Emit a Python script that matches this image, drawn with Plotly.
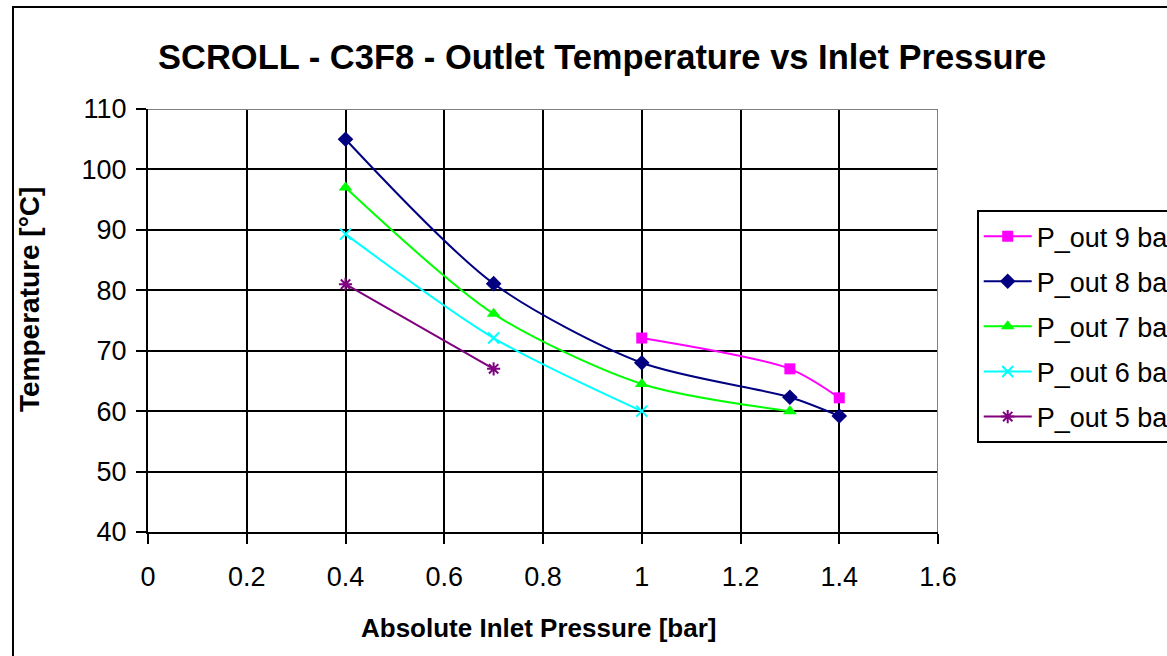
import plotly.graph_objects as go

x9 = [1.0, 1.3, 1.4]
y9 = [72.1, 67.0, 62.2]
x8 = [0.4, 0.7, 1.0, 1.3, 1.4]
y8 = [105.0, 81.1, 68.0, 62.3, 59.2]
x7 = [0.4, 0.7, 1.0, 1.3]
y7 = [97.0, 76.1, 64.5, 60.0]
x6 = [0.4, 0.7, 1.0]
y6 = [89.3, 72.1, 60.0]
x5 = [0.4, 0.7]
y5 = [81.0, 67.0]

names = ["P_out 9 bar", "P_out 8 bar", "P_out 7 bar", "P_out 6 bar", "P_out 5 bar"]
xticks = [0, 0.2, 0.4, 0.6, 0.8, 1, 1.2, 1.4, 1.6]
yticks = [40, 50, 60, 70, 80, 90, 100, 110]

FONT = "Arial, Liberation Sans, sans-serif"

series = [
    (x9, y9, names[0], "#FF00FF", "square", 11, None),
    (x8, y8, names[1], "#000080", "diamond", 12, None),
    (x7, y7, names[2], "#00FF00", "triangle-up", 12, None),
    (x6, y6, names[3], "#00FFFF", "x-thin-open", 11, 2),
    (x5, y5, names[4], "#800080", "asterisk-open", 11, 2),
]

fig = go.Figure()
for i, (xs, ys, nm, col, sym, sz, lw) in enumerate(series):
    marker = dict(symbol=sym, size=sz, color=col)
    if lw:
        marker["line"] = dict(color=col, width=lw)
    else:
        marker["line"] = dict(width=0)
    fig.add_trace(go.Scatter(
        x=xs, y=ys, name=nm, mode="lines+markers",
        line=dict(color=col, width=2, shape="spline", smoothing=0.8),
        marker=marker, legendgroup=str(i),
    ))

fig.update_layout(
    width=1167, height=656,
    paper_bgcolor="white", plot_bgcolor="white",
    margin=dict(l=148, r=229, t=109, b=124, autoexpand=False),
    font=dict(family=FONT, size=27, color="black"),
    showlegend=True,
    legend=dict(
        x=1.049, y=0.761, xanchor="left", yanchor="top",
        bordercolor="black", borderwidth=2, bgcolor="white",
        font=dict(family=FONT, size=27, color="black"),
        tracegroupgap=7, itemwidth=48,
    ),
    xaxis=dict(
        range=[0, 1.6], tickvals=xticks, ticktext=[str(v) for v in xticks],
        showgrid=True, gridcolor="black", gridwidth=1.5,
        showline=True, linecolor="black", linewidth=2,
        ticks="outside", ticklen=10, tickwidth=2, tickcolor="black",
        zeroline=False, ticklabelstandoff=10,
        tickfont=dict(family=FONT, size=27),
    ),
    yaxis=dict(
        range=[40, 110], tickvals=yticks,
        showgrid=True, gridcolor="black", gridwidth=1.5,
        showline=True, linecolor="black", linewidth=2,
        ticks="outside", ticklen=10, tickwidth=2, tickcolor="black",
        zeroline=False, ticklabelstandoff=4,
        tickfont=dict(family=FONT, size=27),
    ),
    shapes=[
        dict(type="rect", xref="paper", yref="paper", x0=-0.1709, y0=-1, x1=2, y1=1.2411,
             line=dict(color="black", width=2), layer="above"),
        dict(type="line", xref="x", yref="y", x0=0, x1=1.6, y0=110, y1=110,
             line=dict(color="gray", width=2), layer="above"),
        dict(type="line", xref="x", yref="y", x0=1.6, x1=1.6, y0=40, y1=110,
             line=dict(color="gray", width=2), layer="above"),
    ],
    annotations=[
        dict(text="<b>SCROLL - C3F8 - Outlet Temperature vs Inlet Pressure</b>",
             xref="paper", yref="paper", x=(602 - 148) / 790, y=(532 - 57) / 423,
             xanchor="center", yanchor="middle", showarrow=False,
             font=dict(family=FONT, size=34.5, color="black")),
        dict(text="<b>Absolute Inlet Pressure [bar]</b>",
             xref="paper", yref="paper", x=(538 - 148) / 790, y=(532 - 628) / 423,
             xanchor="center", yanchor="middle", showarrow=False,
             font=dict(family=FONT, size=26, color="black")),
        dict(text="<b>Temperature [°C]</b>", textangle=-90,
             xref="paper", yref="paper", x=(29 - 148) / 790, y=(532 - 300) / 423,
             xanchor="center", yanchor="middle", showarrow=False,
             font=dict(family=FONT, size=28, color="black")),
    ],
)

fig.write_html("out.html")
